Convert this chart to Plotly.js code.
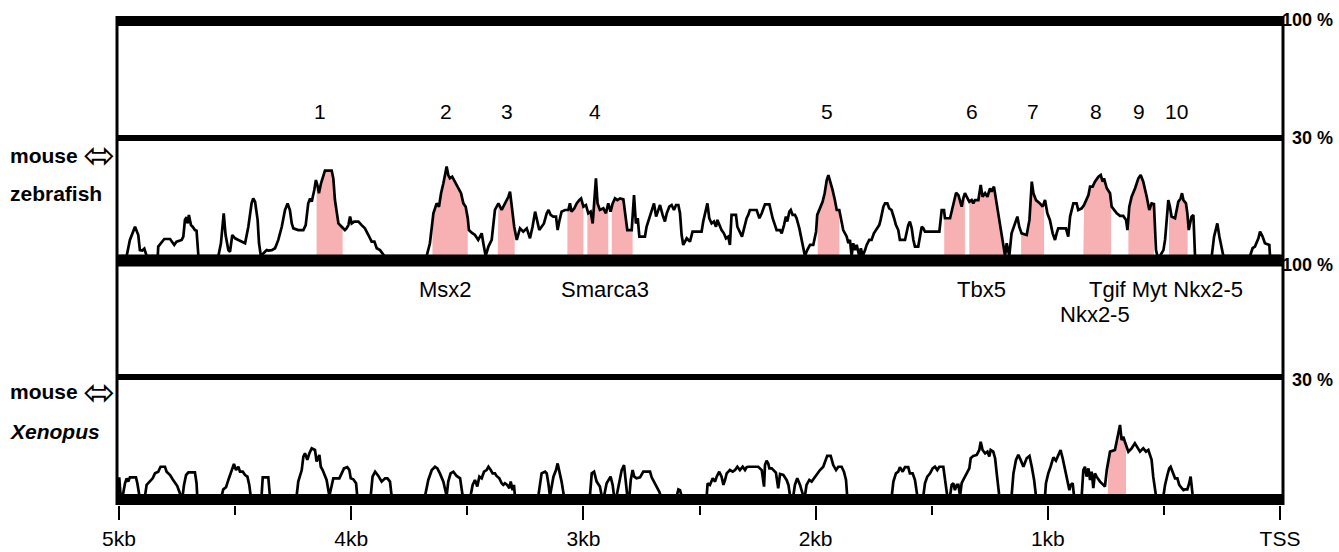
<!DOCTYPE html>
<html>
<head>
<meta charset="utf-8">
<script src="https://cdn.plot.ly/plotly-3.0.1.min.js"></script>
<style>html,body{margin:0;padding:0;background:#fff;}#chart{width:1339px;height:552px;}</style>
</head>
<body>
<div id="chart"></div>
<script>
// ---- mouse vs zebrafish: position (kb upstream of TSS) and % identity ----
var topKb = [
5.000,4.967,4.953,4.931,4.917,4.910,4.900,4.891,4.881,
4.833,4.831,4.816,4.805,4.780,4.773,4.762,4.752,4.730,4.723,4.716,4.709,4.704,4.699,4.690,4.683,4.673,4.666,4.658,
4.572,4.561,4.549,4.541,4.529,4.522,4.512,4.500,4.486,4.472,4.457,4.443,4.429,4.422,4.414,4.403,4.397,4.389,
4.364,4.357,4.342,4.328,4.314,4.299,4.285,4.274,4.264,4.256,4.249,4.228,4.206,4.196,4.185,4.177,4.170,4.159,4.152,4.144,4.139,4.130,4.120,4.113,4.084,4.077,4.070,4.063,4.055,4.041,4.027,4.020,4.012,4.005,3.998,3.987,3.969,3.955,3.941,3.926,3.912,3.900,3.890,3.876,3.857,
3.675,3.661,3.646,3.632,3.622,3.613,3.603,3.596,3.589,3.582,3.575,3.565,3.553,3.539,3.527,3.517,3.507,3.498,3.493,3.481,3.467,3.453,3.438,3.431,3.421,3.409,3.395,3.381,3.366,3.352,3.338,3.323,3.316,3.309,3.298,3.287,3.273,3.259,3.244,
3.230,3.219,3.208,3.198,3.190,3.180,3.170,3.158,3.150,3.141,
3.130,3.118,3.111,3.104,3.094,3.079,3.065,3.058,3.051,3.039,
3.029,3.018,3.010,3.000,2.989,2.979,2.969,2.960,2.953,2.946,
2.939,2.929,2.914,2.903,2.893,2.883,2.874,2.864,2.854,2.842,
2.828,2.821,2.811,2.792,2.782,2.774,2.766,2.759,2.735,2.728,
2.716,2.706,2.696,2.687,2.677,2.670,2.659,2.649,2.641,2.630,
2.620,2.610,2.601,2.591,2.584,2.577,2.570,2.562,2.555,2.548,
2.541,2.530,2.491,2.484,2.474,2.466,2.458,2.448,2.438,2.429,
2.423,2.415,2.405,2.395,2.386,2.376,2.369,2.362,2.343,2.337,
2.326,2.317,2.308,2.297,2.290,2.283,2.254,2.242,2.232,2.225,
2.218,2.199,2.194,2.185,2.175,2.168,2.153,2.146,2.136,2.128,
2.122,2.113,2.107,2.099,2.089,2.082,2.070,2.060,2.053,2.046,
2.036,2.024,2.010,1.998,1.993,1.981,1.970,1.961,1.952,1.945,
1.938,1.927,1.917,1.909,1.898,1.891,1.881,1.866,1.859,1.852,
1.845,1.838,1.830,1.823,1.812,1.805,1.797,1.787,1.780,1.769,
1.759,1.749,1.737,1.726,1.720,1.708,1.701,1.691,1.683,1.673,
1.662,1.654,1.644,1.637,1.615,1.608,1.601,1.594,1.586,1.579,
1.572,1.558,1.550,1.543,1.536,1.529,1.467,
1.457,1.447,1.443,1.421,1.407,1.395,1.385,1.371,1.364,1.357,
1.349,1.338,1.328,1.321,1.314,1.299,1.289,1.281,1.270,1.260,
1.249,1.242,1.232,1.223,1.213,1.199,1.184,1.177,1.166,1.156,
1.141,1.131,1.123,1.113,1.091,1.079,1.069,1.062,1.051,1.034,
1.022,1.012,1.002,0.991,0.979,0.969,0.962,0.955,0.922,0.912,
0.904,0.890,0.876,0.869,0.854,0.844,0.825,0.818,0.807,0.797,
0.782,0.772,0.764,0.758,0.746,0.732,0.725,0.703,0.689,0.675,
0.663,0.657,0.649,0.639,0.624,0.610,0.600,0.589,0.574,0.563,
0.553,0.543,0.534,0.528,0.517,0.502,0.495,0.485,0.481,0.474,
0.467,0.452,0.445,0.438,0.428,0.422,0.416,0.405,0.399,0.393,
0.381,0.373,0.366,0.294,0.284,0.276,0.270,0.261,0.251,0.244,
0.129,0.118,0.108,0.093,0.086,0.075,0.065,0.046,0.043,0.000
];
var topPct = [
50,50,56.8,62.4,58.9,52.5,52.3,53.1,50,
50,54.0,56.1,57.2,57.2,56.1,54.7,56.1,56.8,58.2,65.3,66.4,63.8,67.4,63.1,62.4,61.0,60.7,50,
50,55.4,68.1,58.9,52.5,51.8,58.9,57.5,56.8,56.1,55.4,62.4,72.3,74.4,73.0,65.3,55.4,50,
52.5,52.3,52.5,53.3,56.8,62.4,69.5,72.3,69.5,63.8,61.7,61.0,61.0,63.1,72.3,74.4,73.0,78.0,82.2,79.4,76.6,80.8,84.3,86.2,86.2,82.9,73.7,69.5,63.8,62.4,61.0,61.7,63.1,66.7,63.8,64.6,64.6,63.1,61.7,58.9,56.1,56.1,53.3,52.5,50,
50,55.4,68.1,72.3,70.9,76.6,80.8,85.0,87.9,84.3,82.9,83.6,81.5,78.7,76.6,72.3,70.9,66.0,61.0,59.9,58.9,56.8,59.6,55.4,50,54.0,56.8,69.5,72.3,69.5,72.3,75.1,77.3,70.9,62.4,56.8,61.7,60.3,61.7,
57.5,62.4,68.8,64.6,61.0,62.4,63.8,68.1,69.5,67.4,
66.7,66.7,61.0,64.6,68.8,69.5,69.5,72.3,68.8,70.2,
72.3,73.7,74.4,70.9,71.6,68.1,68.8,63.8,72.3,82.9,
72.3,69.5,70.2,68.1,72.3,68.8,72.3,74.4,73.7,74.4,
74.0,69.5,61.0,61.0,75.8,63.8,66.0,58.2,58.2,62.4,
66.0,69.5,72.3,66.7,69.5,71.6,67.4,64.6,68.1,70.9,
71.6,69.5,71.6,71.6,68.1,58.9,54.7,56.1,57.5,56.8,
56.1,60.3,60.3,64.6,69.5,72.3,66.0,63.8,64.6,62.4,
65.3,63.1,61.0,59.6,57.5,58.2,54.7,67.4,67.4,62.4,
60.3,58.2,61.7,66.0,67.4,69.5,69.5,66.0,68.1,70.2,
71.9,71.9,69.5,66.0,63.1,61.0,61.0,59.6,63.1,66.7,
64.6,68.8,69.5,67.4,67.4,66.0,61.7,56.8,52.5,50,
52.5,54.7,54.7,60.3,67.4,70.2,73.0,76.6,82.2,84.3,
82.2,78.0,73.7,69.5,69.5,66.0,61.0,58.2,55.4,56.8,
50,55.4,52.5,54.7,50,53.3,50,52.5,54.7,56.8,
56.8,59.6,61.7,63.1,65.3,70.9,72.3,72.3,70.2,69.5,
66.0,63.1,61.0,56.8,56.8,60.3,63.1,64.6,61.7,56.8,
54.0,54.0,58.2,62.4,61.7,60.3,60.3,
69.5,69.5,66.0,66.0,72.3,76.8,75.8,70.9,74.4,76.6,
75.1,73.0,73.7,72.3,73.7,73.7,80.1,75.1,76.6,75.1,
78.7,77.3,79.4,73.7,66.7,58.2,50,55.4,50,59.6,
64.5,66.7,62.4,59.6,58.9,65.3,81.5,76.6,73.7,72.3,
70.9,73.7,68.1,65.3,59.6,56.8,59.6,61.7,61.7,58.2,
66.7,72.3,72.3,69.5,70.2,71.6,75.8,79.4,79.4,81.5,
83.6,84.3,81.5,82.9,78.7,76.6,70.9,68.1,67.0,67.0,
65.3,61.0,70.9,75.1,78.7,82.9,84.3,81.5,75.1,69.5,
72.3,72.0,52.5,50,50,52.5,56.8,66.7,73.7,70.9,
66.7,66.0,69.5,73.0,74.4,76.6,73.7,72.3,68.1,61.0,
66.7,67.4,50,50,58.2,61.0,63.8,58.2,54.0,50,
50,53.3,54.0,57.5,60.3,58.2,55.4,54.7,50,50
];

// ---- mouse vs Xenopus ----
var botKb = [
5.007,4.999,4.993,4.984,4.974,4.967,4.960,4.953,4.927,4.921,
4.912,4.888,4.881,4.866,4.855,4.845,4.831,4.821,4.802,4.795,
4.780,4.769,4.759,4.749,4.740,4.734,4.726,4.720,4.711,4.701,
4.673,4.666,4.663,4.558,4.551,4.539,4.529,4.519,4.510,4.505,
4.496,4.486,4.479,4.467,4.457,4.447,4.439,4.433,4.386,4.381,
4.357,4.350,4.235,4.228,4.213,4.206,4.199,4.189,4.180,4.170,
4.156,4.149,4.137,4.131,4.123,4.117,4.106,4.094,4.084,4.077,
4.063,4.051,4.041,4.031,4.017,4.008,4.002,3.991,3.979,3.974,
3.916,3.908,3.897,3.883,3.869,3.854,3.844,3.833,3.826,3.682,
3.668,3.653,3.639,3.629,3.618,3.603,3.589,3.582,3.572,3.560,
3.546,3.531,3.520,3.486,3.477,3.467,3.457,3.448,3.438,3.428,
3.417,3.409,3.399,3.391,3.381,3.374,3.362,3.352,3.345,3.338,
3.328,3.319,3.313,3.305,3.299,3.295,3.194,
3.187,3.180,3.165,3.158,3.151,3.144,3.129,3.118,3.111,3.104,
3.094,3.084,2.972,2.964,2.954,2.943,2.929,2.921,2.911,2.900,
2.888,2.883,2.874,2.868,2.857,2.845,2.835,2.825,2.817,2.811,
2.802,2.796,2.788,2.781,2.771,2.756,2.742,2.713,2.706,2.692,
2.682,2.673,2.667,2.598,2.591,2.584,2.577,2.469,2.465,2.455,
2.443,2.433,2.426,2.415,2.405,2.397,2.390,2.383,2.369,2.357,
2.347,2.337,2.326,2.314,2.304,2.297,2.290,2.268,2.247,2.232,
2.222,2.218,2.211,2.204,2.199,2.189,2.182,2.171,2.161,2.153,
2.139,2.125,2.117,2.110,2.096,2.089,2.079,2.067,2.053,2.046,
2.039,2.027,2.017,2.003,1.993,1.981,1.967,1.960,1.950,1.935,
1.924,1.912,1.902,1.888,1.878,1.869,1.864,1.672,1.665,1.654,
1.644,1.637,1.625,1.615,1.601,1.594,1.582,1.572,1.562,1.536,
1.529,1.519,
1.507,1.496,1.486,1.476,1.467,1.450,1.443,1.433,1.421,1.414,
1.407,1.400,1.392,1.385,1.378,1.371,1.364,1.357,1.347,1.338,
1.332,1.321,1.306,1.295,1.289,1.281,1.270,1.260,1.252,1.246,
1.235,1.227,1.220,1.209,1.156,1.148,1.137,1.127,1.117,1.105,
1.091,1.079,1.069,1.059,1.051,1.012,1.008,0.998,0.988,0.976,
0.965,0.955,0.945,0.936,0.926,0.916,0.907,0.902,0.893,0.887,
0.854,0.847,0.840,0.833,0.825,0.818,0.811,0.804,0.797,0.790,
0.775,0.761,0.754,0.746,0.739,0.732,0.711,0.703,0.696,0.689,
0.682,0.675,0.668,0.660,0.653,0.646,0.639,0.625,0.617,0.603,
0.589,0.577,0.567,0.560,0.553,0.546,0.534,0.502,0.495,0.485,
0.477,0.471,0.462,0.452,0.442,0.434,0.423,0.416,0.409,0.399,
0.391,0.385,0.381,0.376,0.000
];
var botPct = [
50,57.9,50,50,55.4,57.5,56.1,57.9,57.9,55.4,
50,50,54.7,56.1,57.5,59.6,60.3,62.4,62.4,60.3,
58.9,57.1,55.4,54.2,51.8,50,50,54.7,58.9,60.0,
60.0,55.4,50,50,52.8,53.7,56.8,59.3,62.4,63.6,
61.0,62.4,60.3,60.3,58.9,58.2,54.7,50,50,57.9,
57.9,50,50,56.1,61.0,66.7,68.1,65.3,68.1,70.2,
69.5,64.6,67.4,62.4,61.0,59.6,56.8,50,55.4,57.5,
57.5,57.5,59.6,61.7,62.2,61.0,57.5,57.1,55.4,50,
50,58.2,60.3,58.5,56.1,57.5,57.5,56.1,50,50,
56.8,61.0,62.4,61.7,59.6,56.1,50,56.1,59.6,60.3,
58.5,57.5,50,50,54.7,56.8,54.0,58.2,57.5,60.3,
61.0,62.4,61.0,59.6,59.6,58.5,57.5,55.4,54.7,55.4,
54.7,53.3,56.1,52.5,54.7,50,50,
55.4,59.6,60.3,59.6,55.4,50,58.2,61.0,63.8,61.0,
56.1,50,50,59.6,60.3,56.1,54.0,50,50,55.4,
57.5,58.2,54.7,50,50,56.8,61.0,63.1,56.8,50,
50,56.8,61.0,58.2,57.5,57.9,60.3,60.3,57.9,55.4,
54.0,51.8,50,50,52.8,52.5,50,50,55.4,54.7,
57.5,56.1,58.2,60.3,58.2,54.7,56.8,59.6,61.0,60.3,
61.0,62.4,61.0,62.4,61.0,62.2,62.4,62.4,62.4,61.0,
54.0,63.1,65.0,63.8,61.7,61.7,61.0,59.9,53.3,59.3,
58.9,56.8,54.7,50,50,54.7,57.5,54.7,50,50,
54.7,56.8,56.1,58.2,59.6,61.0,62.4,64.6,67.0,67.0,
63.1,61.0,62.4,62.4,60.3,56.8,50,50,56.1,59.6,
60.3,62.2,60.3,62.2,62.2,59.6,59.6,56.8,50,50,
55.4,58.2,
59.6,61.7,62.4,61.0,62.4,62.4,56.8,50,50,54.7,
55.4,52.5,54.7,54.7,50,55.4,56.8,58.2,59.6,61.7,
66.0,67.0,67.4,69.5,73.0,69.5,68.1,68.8,66.7,69.5,
68.8,66.0,59.6,50,50,59.6,65.3,67.4,65.3,62.4,
66.0,67.0,62.4,56.8,50,50,55.4,59.6,62.4,66.4,
65.0,67.4,69.5,66.0,61.0,56.1,52.5,54.7,55.4,50,
50,61.0,62.4,58.2,61.7,56.8,60.3,53.3,59.6,58.2,
56.1,54.7,54.0,61.0,65.3,68.8,69.5,73.7,75.9,80.1,
73.7,75.1,73.0,70.9,68.8,69.5,70.2,72.3,70.9,68.8,
70.2,68.8,69.5,67.4,65.3,58.2,50,50,54.7,58.9,
61.7,62.4,59.6,57.5,57.5,54.7,53.3,52.5,52.8,52.8,
55.4,58.2,54.7,50,50
];

// conserved regions (kb upstream, start > end)
var topRegionStart = [4.149,3.650,3.369,3.069,2.983,2.878,1.991,1.446,1.338,1.115,0.847,0.653,0.478];
var topRegionEnd   = [4.037,3.498,3.296,3.000,2.893,2.788,1.898,1.357,1.189,1.016,0.728,0.543,0.398];
var botRegionStart = [0.742];
var botRegionEnd   = [0.663];

// labels
var regionNumbers  = ['1','2','3','4','5','6','7','8','9','10'];
var regionNumberKb = [4.134,3.592,3.329,2.950,1.951,1.326,1.064,0.792,0.607,0.444];
var geneNames  = ['Msx2','Smarca3','Tbx5','Tgif Myt Nkx2-5','Nkx2-5'];
var geneKb     = [3.592,2.909,1.286,0.493,0.795];
var geneRow    = [0,0,0,0,1];
var tickKb     = [5,4,3,2,1,0];
var tickLabels = ['5kb','4kb','3kb','2kb','1kb','TSS'];
var minorTickKb = [4.5,3.5,2.5,1.5,0.5];

var BASE = 50;
var PINK = '#f7b1b2';
var FONT = 'Liberation Sans, Arial, Helvetica, sans-serif';

function interp(xs, ys, x) {
  for (var i = 0; i < xs.length - 1; i++) {
    if (xs[i] >= x && xs[i + 1] <= x) {
      var d = xs[i] - xs[i + 1];
      var t = d === 0 ? 0 : (xs[i] - x) / d;
      return ys[i] + t * (ys[i + 1] - ys[i]);
    }
  }
  return BASE;
}
function regionTrace(xs, ys, a, b, yax) {
  var px = [a, a], py = [BASE, interp(xs, ys, a)];
  for (var i = 0; i < xs.length; i++) {
    if (xs[i] < a && xs[i] > b) { px.push(xs[i]); py.push(ys[i]); }
  }
  px.push(b); py.push(interp(xs, ys, b));
  px.push(b); py.push(BASE);
  return {x: px, y: py, xaxis: 'x', yaxis: yax, type: 'scatter', mode: 'lines',
    fill: 'toself', fillcolor: PINK, line: {width: 0, color: 'rgba(0,0,0,0)'}, hoverinfo: 'skip'};
}

var traces = [];
for (var i = 0; i < topRegionStart.length; i++) traces.push(regionTrace(topKb, topPct, topRegionStart[i], topRegionEnd[i], 'y'));
for (var j = 0; j < botRegionStart.length; j++) traces.push(regionTrace(botKb, botPct, botRegionStart[j], botRegionEnd[j], 'y2'));
traces.push({x: topKb, y: topPct, xaxis: 'x', yaxis: 'y', type: 'scatter', mode: 'lines',
  line: {color: '#000', width: 2.7}, hoverinfo: 'skip'});
traces.push({x: botKb, y: botPct, xaxis: 'x', yaxis: 'y2', type: 'scatter', mode: 'lines',
  line: {color: '#000', width: 2.7}, hoverinfo: 'skip'});

function hline(yref, y, w) {
  return {type: 'line', xref: 'paper', x0: 0, x1: 1, yref: yref, y0: y, y1: y, line: {color: '#000', width: w}};
}
function vline(x) {
  return {type: 'line', xref: 'paper', x0: x, x1: x, yref: 'paper', y0: 0, y1: 1, line: {color: '#000', width: 3}};
}
var shapes = [
  hline('y', 149.58, 10), hline('y', 100, 6), hline('y', 48.09, 12),
  hline('y2', 100.42, 6), hline('y2', 48.52, 11),
  vline(0), vline(1)
];

var ann = [];
for (var k = 0; k < regionNumbers.length; k++) {
  ann.push({x: regionNumberKb[k], xref: 'x', y: 0.8057, yref: 'paper', text: regionNumbers[k],
    showarrow: false, xanchor: 'center', yanchor: 'middle', font: {family: FONT, size: 21, color: '#000'}});
}
for (var g = 0; g < geneNames.length; g++) {
  ann.push({x: geneKb[g], xref: 'x', y: geneRow[g] === 0 ? 0.4397 : 0.3896, yref: 'paper', text: geneNames[g],
    showarrow: false, xanchor: 'center', yanchor: 'middle', font: {family: FONT, size: 22, color: '#000'}});
}
var rightLabels = [['100 %', 0.9918], ['30 %', 0.7505], ['100 %', 0.4908], ['30 %', 0.2556]];
rightLabels.forEach(function (r) {
  ann.push({x: 1.0446, xref: 'paper', y: r[1], yref: 'paper', text: '<b>' + r[0] + '</b>', showarrow: false,
    xanchor: 'right', yanchor: 'middle', font: {family: FONT, size: 18, color: '#000'}});
});
var leftLabels = [['<b>mouse</b>', 0.7157], ['<b>zebrafish</b>', 0.636], ['<b>mouse</b>', 0.2311], ['<b><i>Xenopus</i></b>', 0.1493]];
leftLabels.forEach(function (r) {
  ann.push({x: -0.0935, xref: 'paper', y: r[1], yref: 'paper', text: r[0], showarrow: false,
    xanchor: 'left', yanchor: 'middle', font: {family: FONT, size: 21, color: '#000'}});
});
[0.7157, 0.2311].forEach(function (yy) {
  ann.push({x: -0.0154, xref: 'paper', y: yy, yref: 'paper', text: '\u2B04', showarrow: false,
    xanchor: 'center', yanchor: 'middle', font: {family: 'DejaVu Sans, sans-serif', size: 38, color: '#000'}});
});

var layout = {
  width: 1339, height: 552,
  margin: {l: 117, r: 56, t: 16, b: 47, pad: 0},
  paper_bgcolor: '#fff', plot_bgcolor: '#fff',
  showlegend: false,
  xaxis: {
    range: [5.0086, -0.0129], anchor: 'y2',
    tickmode: 'array', tickvals: tickKb, ticktext: tickLabels,
    ticks: 'outside', ticklen: 14, tickwidth: 2, tickcolor: '#000',
    ticklabelstandoff: 1,
    minor: {tickmode: 'array', tickvals: minorTickKb, ticks: 'outside', ticklen: 9, tickwidth: 2, tickcolor: '#000'},
    showgrid: false, zeroline: false, showline: false,
    tickfont: {family: FONT, size: 21, color: '#000'}
  },
  yaxis: {domain: [0.48671, 1], range: [45.34, 151.69], showgrid: false, zeroline: false,
    showticklabels: false, ticks: '', showline: false},
  yaxis2: {domain: [0, 0.48057], range: [46.19, 145.76], showgrid: false, zeroline: false,
    showticklabels: false, ticks: '', showline: false},
  shapes: shapes,
  annotations: ann
};

Plotly.newPlot('chart', traces, layout, {staticPlot: true, displayModeBar: false});
</script>
</body>
</html>
